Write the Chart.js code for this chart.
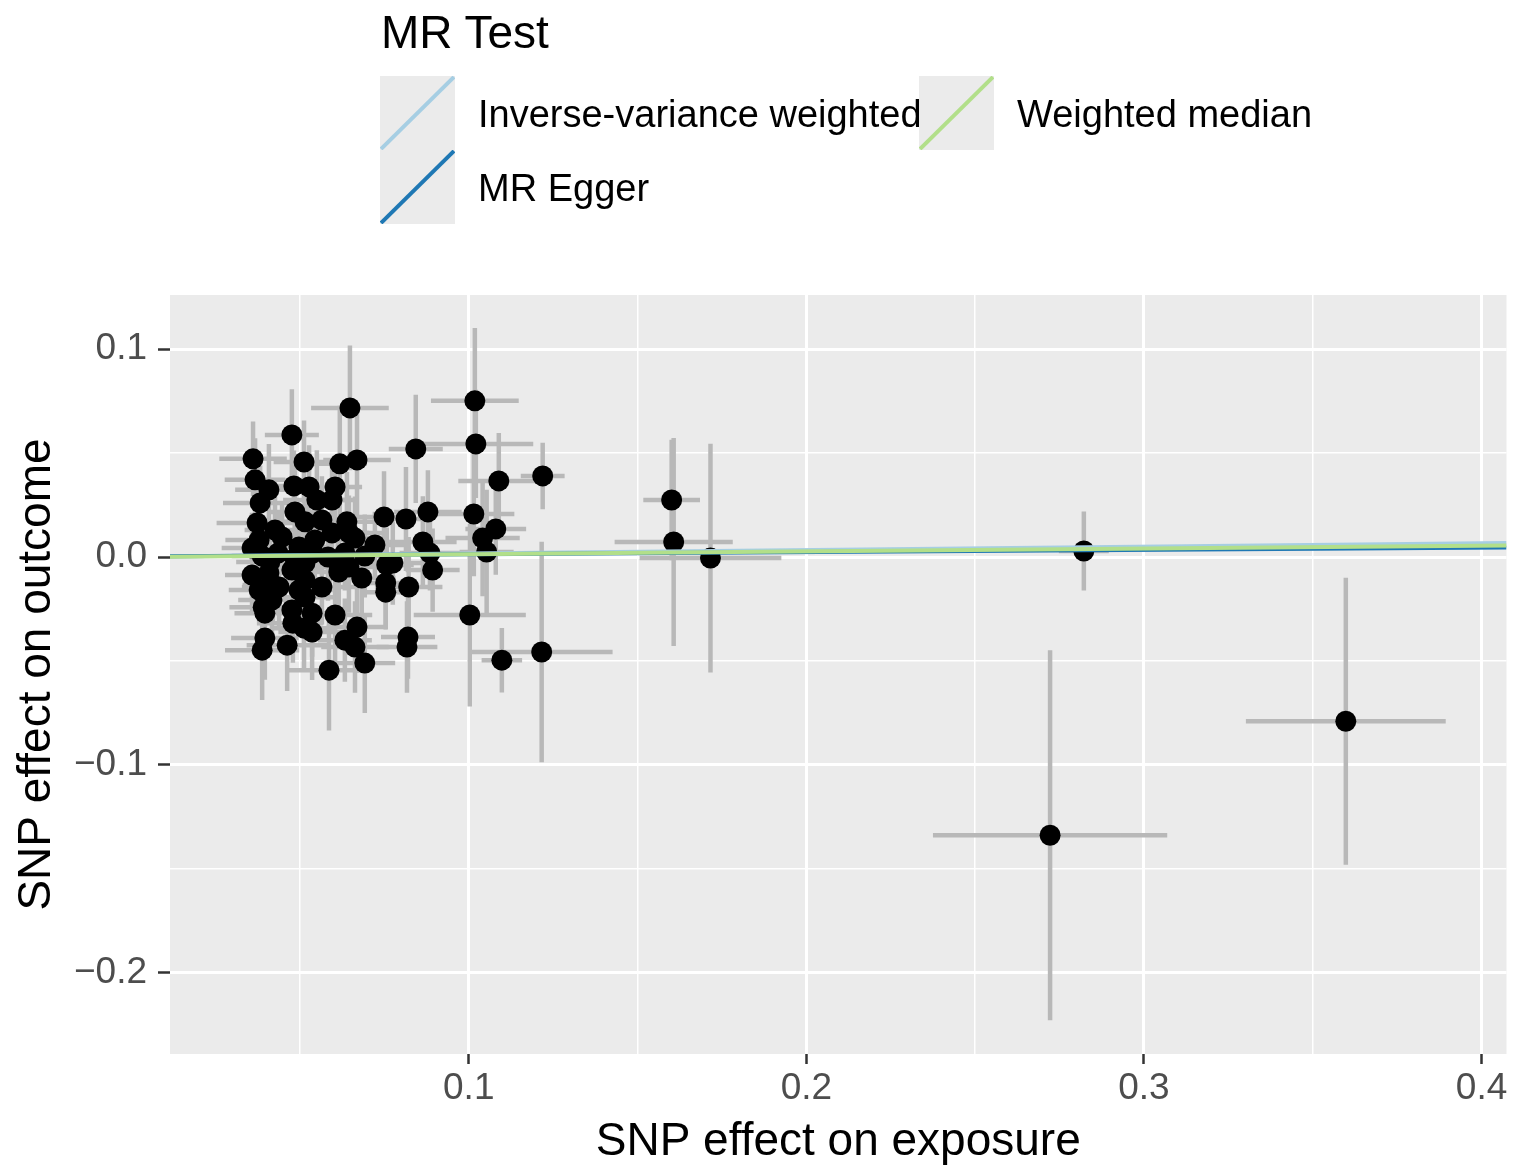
<!DOCTYPE html>
<html>
<head>
<meta charset="utf-8">
<script src="https://cdn.jsdelivr.net/npm/chart.js@4"></script>
<style>
  body { margin: 0; background: #fff; }
  #wrap { position: relative; width: 1517px; height: 1168px; }
  #legend { position: absolute; left: 0; top: 0; font-family: "Liberation Sans", Arial, sans-serif; color: #000; }
  #legend .title { position: absolute; left: 381px; top: 9px; font-size: 46px; line-height: 46px; white-space: nowrap; }
  #legend .key { position: absolute; width: 75px; height: 74px; background: #ebebeb; }
  #legend .label { position: absolute; font-size: 38px; line-height: 38px; white-space: nowrap; }
</style>
</head>
<body>
<div id="wrap">
  <canvas id="mrScatter" width="1517" height="1168"></canvas>
  <div id="legend"></div>
</div>
<script>
// SNP effects (exposure / outcome) and their standard errors
const exposure = [
  0.0648, 0.1018, 0.0476, 0.0361, 0.0512, 0.0618, 0.0669, 0.1021, 0.0843, 0.0367,
  0.0408, 0.0482, 0.0527, 0.0604, 0.1089, 0.1219, 0.0382, 0.0485, 0.0550, 0.0595,
  0.0749, 0.0814, 0.0879, 0.1015, 0.1080, 0.0373, 0.0426, 0.0515, 0.0565, 0.0639,
  0.0645, 0.0722, 0.0379, 0.0447, 0.0544, 0.0595, 0.0663, 0.0358, 0.0497, 0.1041,
  0.1053, 0.0864, 0.0885, 0.0775, 0.0757, 0.0893, 0.0754, 0.0754, 0.0822, 0.1003,
  0.0820, 0.0817, 0.1098, 0.1216, 0.0692, 0.0586, 0.0663, 0.0633, 0.0669, 0.0604,
  0.0512, 0.0536, 0.0476, 0.0462, 0.0396, 0.0396, 0.0388, 0.0358, 0.0379, 0.0417,
  0.0408, 0.0438, 0.0476, 0.0515, 0.0497, 0.0515, 0.0536, 0.0565, 0.0615, 0.0645,
  0.0683, 0.0388, 0.0435, 0.0485, 0.0538, 0.0583, 0.0633, 0.0692, 0.0411, 0.0515,
  0.0612, 0.0420, 0.0391, 0.0479, 0.1601, 0.1607, 0.1716, 0.2822, 0.2722, 0.3598
];
const outcome = [
  0.0717, 0.0751, 0.0587, 0.0472, 0.0457, 0.0448, 0.0467, 0.0544, 0.0520, 0.0371,
  0.0323, 0.0342, 0.0337, 0.0337, 0.0366, 0.0390, 0.0260, 0.0217, 0.0274, 0.0274,
  0.0193, 0.0183, 0.0217, 0.0207, 0.0135, 0.0164, 0.0130, 0.0169, 0.0178, 0.0169,
  0.0116, 0.0058, 0.0082, 0.0096, 0.0082, 0.0116, 0.0091, 0.0043, 0.0048, 0.0091,
  0.0024, 0.0072, 0.0019, -0.0029, -0.0038, -0.0063, -0.0125, -0.0169, -0.0144, -0.0279,
  -0.0385, -0.0433, -0.0496, -0.0457, -0.0510, -0.0544, -0.0433, -0.0400, -0.0337, -0.0279,
  -0.0342, -0.0361, -0.0255, -0.0424, -0.0270, -0.0390, -0.0448, -0.0087, -0.0159, -0.0207,
  -0.0077, -0.0144, -0.0063, -0.0111, -0.0159, -0.0193, -0.0270, -0.0144, -0.0072, -0.0048,
  -0.0101, 0.0005, 0.0019, -0.0005, 0.0019, 0.0000, 0.0019, 0.0005, -0.0024, -0.0029,
  -0.0024, -0.0135, -0.0241, -0.0318, 0.0274, 0.0072, -0.0005, 0.0029, -0.1338, -0.0790
];
const seExposure = [
  0.0115, 0.013, 0.008, 0.010, 0.009, 0.008, 0.010, 0.017, 0.008, 0.009,
  0.010, 0.007, 0.009, 0.008, 0.012, 0.0065, 0.011, 0.008, 0.010, 0.007,
  0.009, 0.007, 0.010, 0.012, 0.009, 0.012, 0.009, 0.011, 0.009, 0.008,
  0.010, 0.009, 0.010, 0.008, 0.009, 0.011, 0.008, 0.009, 0.010, 0.011,
  0.008, 0.010, 0.009, 0.010, 0.008, 0.008, 0.009, 0.007, 0.010, 0.0166,
  0.008, 0.009, 0.006, 0.021, 0.009, 0.012, 0.010, 0.008, 0.009, 0.011,
  0.009, 0.010, 0.008, 0.012, 0.009, 0.010, 0.011, 0.008, 0.009, 0.010,
  0.008, 0.011, 0.009, 0.008, 0.010, 0.009, 0.008, 0.010, 0.009, 0.011,
  0.010, 0.009, 0.010, 0.008, 0.009, 0.010, 0.008, 0.009, 0.010, 0.009,
  0.008, 0.009, 0.010, 0.009, 0.0084, 0.0175, 0.021, 0.0074, 0.0347, 0.0296
];
const seOutcome = [
  0.030, 0.035, 0.022, 0.018, 0.020, 0.028, 0.027, 0.026, 0.026, 0.020,
  0.022, 0.017, 0.020, 0.015, 0.023, 0.016, 0.018, 0.020, 0.024, 0.019,
  0.022, 0.025, 0.020, 0.030, 0.022, 0.018, 0.016, 0.019, 0.021, 0.024,
  0.018, 0.016, 0.020, 0.017, 0.019, 0.022, 0.020, 0.017, 0.021, 0.028,
  0.030, 0.022, 0.018, 0.020, 0.018, 0.020, 0.022, 0.018, 0.024, 0.044,
  0.020, 0.022, 0.0155, 0.053, 0.024, 0.029, 0.022, 0.020, 0.022, 0.025,
  0.020, 0.023, 0.018, 0.022, 0.019, 0.020, 0.024, 0.019, 0.017, 0.022,
  0.016, 0.020, 0.018, 0.017, 0.020, 0.019, 0.021, 0.018, 0.020, 0.022,
  0.019, 0.018, 0.020, 0.017, 0.019, 0.021, 0.018, 0.020, 0.019, 0.018,
  0.020, 0.018, 0.021, 0.019, 0.029, 0.050, 0.055, 0.019, 0.089, 0.069
];

// MR method fits (intercept + slope)
const methods = ["Inverse-variance weighted", "MR Egger", "Weighted median"];
const methodColors = ["#a6cee3", "#1f78b4", "#b2df8a"];
const intercepts = [0, 0.0003, 0];
const slopes = [0.0165, 0.0106, 0.0135];

// axis ranges and gridlines
const xRange = [0.0115, 0.4074];
const yRange = [-0.239, 0.126];
const xMajor = [0.1, 0.2, 0.3, 0.4];
const xMinor = [0.05, 0.15, 0.25, 0.35];
const yMajor = [-0.2, -0.1, 0.0, 0.1];
const yMinor = [-0.15, -0.05, 0.05];

const FONT = '"Liberation Sans", Arial, sans-serif';

function isMajor(list, v) {
  return list.some((m) => Math.abs(m - v) < 1e-9);
}

function fmtTick(v) {
  const s = Math.abs(v).toFixed(1);
  return v < -1e-9 ? "\u2212" + s : s;
}

// grey panel background
const panelBackground = {
  id: "panelBackground",
  beforeDraw(chart) {
    const { ctx, chartArea } = chart;
    ctx.save();
    ctx.fillStyle = "#ebebeb";
    ctx.fillRect(chartArea.left, chartArea.top, chartArea.width, chartArea.height);
    ctx.restore();
  },
};

// horizontal + vertical error bars, drawn under the points
const errorBars = {
  id: "errorBars",
  beforeDatasetsDraw(chart) {
    const { ctx, chartArea, scales } = chart;
    const x = scales.x;
    const y = scales.y;
    ctx.save();
    ctx.beginPath();
    ctx.rect(chartArea.left, chartArea.top, chartArea.width, chartArea.height);
    ctx.clip();
    ctx.strokeStyle = "#b8b8b8";
    ctx.lineWidth = 4.5;
    exposure.forEach((bx, i) => {
      const by = outcome[i];
      const px = x.getPixelForValue(bx);
      const py = y.getPixelForValue(by);
      ctx.beginPath();
      ctx.moveTo(px, y.getPixelForValue(by - seOutcome[i]));
      ctx.lineTo(px, y.getPixelForValue(by + seOutcome[i]));
      ctx.moveTo(x.getPixelForValue(bx - seExposure[i]), py);
      ctx.lineTo(x.getPixelForValue(bx + seExposure[i]), py);
      ctx.stroke();
    });
    ctx.restore();
  },
};

const fitDatasets = methods.map((name, i) => ({
  type: "line",
  label: name,
  data: xRange.map((xv) => ({ x: xv, y: intercepts[i] + slopes[i] * xv })),
  borderColor: methodColors[i],
  borderWidth: 4,
  pointRadius: 0,
  fill: false,
  order: 3 - i,
}));

const pointDataset = {
  type: "scatter",
  label: "SNPs",
  data: exposure.map((bx, i) => ({ x: bx, y: outcome[i] })),
  backgroundColor: "#000",
  borderWidth: 0,
  pointRadius: 10.5,
  order: 10,
};

const ctx = document.getElementById("mrScatter").getContext("2d");
new Chart(ctx, {
  type: "scatter",
  data: { datasets: [pointDataset, ...fitDatasets] },
  options: {
    responsive: false,
    animation: false,
    devicePixelRatio: 1,
    layout: { padding: { top: 295, right: 9, left: 0, bottom: 0 } },
    plugins: { legend: { display: false }, tooltip: { enabled: false } },
    scales: {
      x: {
        type: "linear",
        min: xRange[0],
        max: xRange[1],
        afterBuildTicks: (scale) => {
          scale.ticks = [...xMinor, ...xMajor].sort((a, b) => a - b).map((v) => ({ value: v }));
        },
        afterFit: (scale) => { scale.height = 114; },
        border: { display: false },
        grid: {
          color: "#ffffff",
          lineWidth: (c) => (isMajor(xMajor, c.tick.value) ? 3 : 1.5),
          tickColor: (c) => (isMajor(xMajor, c.tick.value) ? "#333333" : "rgba(0,0,0,0)"),
          tickWidth: 2.5,
          tickLength: 10,
        },
        ticks: {
          autoSkip: false,
          maxRotation: 0,
          padding: 3,
          color: "#4d4d4d",
          font: { family: FONT, size: 37 },
          callback: (v) => (isMajor(xMajor, v) ? fmtTick(v) : ""),
        },
        title: {
          display: true,
          text: "SNP effect on exposure",
          color: "#000",
          font: { family: FONT, size: 46, lineHeight: 1.1 },
          padding: { top: 0, bottom: 0 },
        },
      },
      y: {
        type: "linear",
        min: yRange[0],
        max: yRange[1],
        afterBuildTicks: (scale) => {
          scale.ticks = [...yMinor, ...yMajor].sort((a, b) => a - b).map((v) => ({ value: v }));
        },
        afterFit: (scale) => { scale.width = 170; },
        border: { display: false },
        grid: {
          color: "#ffffff",
          lineWidth: (c) => (isMajor(yMajor, c.tick.value) ? 3 : 1.5),
          tickColor: (c) => (isMajor(yMajor, c.tick.value) ? "#333333" : "rgba(0,0,0,0)"),
          tickWidth: 2.5,
          tickLength: 12,
        },
        ticks: {
          autoSkip: false,
          padding: 11,
          color: "#4d4d4d",
          font: { family: FONT, size: 37 },
          callback: (v) => (isMajor(yMajor, v) ? fmtTick(v) : ""),
        },
        title: {
          display: true,
          text: "SNP effect on outcome",
          color: "#000",
          font: { family: FONT, size: 46, lineHeight: 1.1 },
          padding: { top: 12, bottom: 0 },
        },
      },
    },
  },
  plugins: [panelBackground, errorBars],
});

// ggplot-style legend above the panel
const legendSlots = [
  { left: 380, top: 76 },
  { left: 380, top: 150 },
  { left: 919, top: 76 },
];
const legend = document.getElementById("legend");
let html = '<div class="title">MR Test</div>';
methods.forEach((name, i) => {
  const s = legendSlots[i];
  html +=
    '<div class="key" style="left:' + s.left + "px;top:" + s.top + 'px">' +
    '<svg width="75" height="74"><line x1="1" y1="73" x2="74" y2="1" stroke="' +
    methodColors[i] + '" stroke-width="4"/></svg></div>' +
    '<div class="label" style="left:' + (s.left + 98) + "px;top:" + (s.top + 19) + 'px">' + name + "</div>";
});
legend.innerHTML = html;
</script>
</body>
</html>
